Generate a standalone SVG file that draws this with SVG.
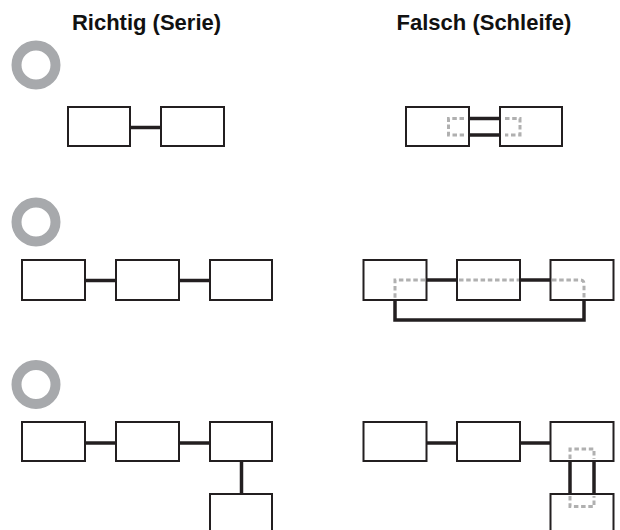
<svg xmlns="http://www.w3.org/2000/svg" width="620" height="530" viewBox="0 0 620 530">
<style>
.title{font-family:"Liberation Sans",Arial,sans-serif;font-weight:700;font-size:22px;fill:#111;text-anchor:middle}
.ring{fill:none;stroke:#a7a9ac;stroke-width:10}
.box{fill:#fff;stroke:#231f20;stroke-width:2}
.wire{fill:none;stroke:#231f20;stroke-width:3.5}
.dash{fill:none;stroke:#b0b0b0;stroke-width:3;stroke-dasharray:4.5 2.7}
</style>
<rect width="620" height="530" fill="#fff"/>
<text class="title" x="146.5" y="29.5">Richtig (Serie)</text>
<text class="title" x="484" y="29.5">Falsch (Schleife)</text>
<g id="rings">
<circle class="ring" cx="36" cy="65" r="19.5"/>
<circle class="ring" cx="36" cy="222" r="19.5"/>
<circle class="ring" cx="36" cy="384.5" r="19.5"/>
</g>
<g id="connectors">
<line class="wire" x1="130" y1="127.5" x2="161" y2="127.5"/>
<line class="wire" x1="469" y1="118.5" x2="500" y2="118.5"/>
<line class="wire" x1="469" y1="135" x2="500" y2="135"/>
<line class="wire" x1="85" y1="280.5" x2="116" y2="280.5"/>
<line class="wire" x1="179" y1="280.5" x2="210" y2="280.5"/>
<line class="wire" x1="426" y1="280" x2="457" y2="280"/>
<line class="wire" x1="520" y1="280" x2="550" y2="280"/>
<polyline class="wire" points="395,300 395,320 584,320 584,300"/>
<line class="wire" x1="85" y1="443" x2="116" y2="443"/>
<line class="wire" x1="179" y1="443" x2="210" y2="443"/>
<line class="wire" x1="241.5" y1="461" x2="241.5" y2="494"/>
<line class="wire" x1="426" y1="443" x2="457" y2="443"/>
<line class="wire" x1="520" y1="443" x2="550" y2="443"/>
<line class="wire" x1="570" y1="461" x2="570" y2="494"/>
<line class="wire" x1="594" y1="461" x2="594" y2="494"/>
</g>
<g id="r1-left-a"><rect class="box" x="68" y="107" width="62" height="39"/></g>
<g id="r1-left-b"><rect class="box" x="161" y="107" width="63" height="39"/></g>
<g id="r1-right-a"><rect class="box" x="406" y="107" width="63" height="39"/>
<polyline class="dash" points="464,118.5 448.5,118.5 448.5,135 464,135"/></g>
<g id="r1-right-b"><rect class="box" x="500" y="107" width="62" height="39"/>
<polyline class="dash" points="505,118.5 520,118.5 520,135 505,135"/></g>
<g id="r2-left-a"><rect class="box" x="22" y="260" width="63" height="40"/></g>
<g id="r2-left-b"><rect class="box" x="116" y="260" width="63" height="40"/></g>
<g id="r2-left-c"><rect class="box" x="210" y="260" width="62" height="40"/></g>
<g id="r2-right-a"><rect class="box" x="363.5" y="260" width="63" height="40"/>
<polyline class="dash" points="425,280 395,280 395,299"/></g>
<g id="r2-right-b"><rect class="box" x="457" y="260" width="63" height="40"/>
<line class="dash" x1="459" y1="280" x2="519" y2="280"/></g>
<g id="r2-right-c"><rect class="box" x="550.5" y="260" width="63" height="40"/>
<path class="dash" d="M552,280 H580 Q584,280 584,284 V299"/></g>
<g id="r3-left-a"><rect class="box" x="22" y="422" width="63" height="39"/></g>
<g id="r3-left-b"><rect class="box" x="116" y="422" width="63" height="39"/></g>
<g id="r3-left-c"><rect class="box" x="210" y="422" width="62" height="39"/></g>
<g id="r3-left-d"><rect class="box" x="210" y="494" width="62" height="45"/></g>
<g id="r3-right-a"><rect class="box" x="363.5" y="422" width="63" height="39"/></g>
<g id="r3-right-b"><rect class="box" x="457" y="422" width="63" height="39"/></g>
<g id="r3-right-c"><rect class="box" x="550.5" y="422" width="63" height="39"/>
<polyline class="dash" points="570,459 570,449 594,449 594,459"/></g>
<g id="r3-right-d"><rect class="box" x="550.5" y="494" width="63" height="45"/>
<polyline class="dash" points="570,496 570,506.5 594,506.5 594,496"/></g>
</svg>
